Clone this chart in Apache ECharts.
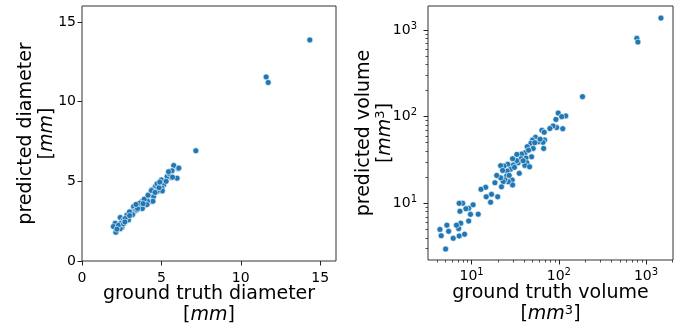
<!DOCTYPE html>
<html>
<head>
<meta charset="utf-8">
<script src="https://cdn.jsdelivr.net/npm/echarts@6/dist/echarts.min.js"></script>
<style>html,body{margin:0;padding:0;background:#fff}#c{width:680px;height:331px}</style>
</head>
<body>
<div id="c"></div>
<script>
// Diameter [mm]: [ground truth, predicted]
const diameterPoints = [
  [14.35,13.87],[11.6,11.55],[11.73,11.2],[7.17,6.92],
  [5.78,5.99],[6.06,5.79],[5.68,5.66],[5.61,5.24],[5.99,5.2],[5.36,5.3],[5.5,5.47],[5.0,5.09],
  [4.62,4.67],[5.15,4.78],[5.04,4.57],[5.06,4.4],[4.41,4.47],[4.73,4.36],[4.2,4.15],[4.51,4.04],
  [4.09,3.84],[4.3,3.73],[3.78,3.73],[3.94,3.52],[3.57,3.52],[3.67,3.31],[3.25,3.42],[3.35,3.14],
  [3.04,3.1],[3.14,2.89],[2.83,2.89],[2.41,2.73],[2.62,2.58],[2.09,2.37],[2.45,2.37],[1.98,2.16],
  [2.51,2.1],[2.13,1.8],[2.41,2.03],[2.3,2.24],[2.93,2.58],
  [4.47,3.75],[4.13,3.75],[4.09,3.54],[3.8,3.29],[3.46,3.21],[3.19,2.91],[2.72,2.66],[2.99,3.08],
  [3.63,3.63],[3.92,3.88],[4.16,4.13],[4.37,4.42],[4.73,4.84],[5.67,5.66],[5.7,5.26],[6.1,5.83],
  [2.62,2.33],[4.85,4.6],[4.6,4.3],[3.5,3.3],[3.0,2.85],[2.7,2.45],[5.3,5.0],[4.9,4.95],
  [3.85,3.6],[3.4,3.55],[2.2,2.0],[5.45,5.6]
];
// Volume [mm^3]: [ground truth, predicted]
const volumePoints = [
  [1483,1371],[785,800],[807,725],[187,170],[98.4,110],[120,102],[108,100],[92.7,93],[94.4,75],
  [111,72.6],[86,78],[79,73],[64,69.5],[68,66],[68.7,53.7],[65.8,50.5],[67,43],[54,57.7],[58,51.3],
  [50,53.7],[47.9,49.2],[50.8,43],[48.7,34.4],[43.4,45],[41,38.4],[37.4,37],[42,33.3],[37,32.7],
  [43,29.4],[34.2,29.4],[40.8,27.4],[46.2,26.4],[33,36.7],[32.8,31],[29.5,32.7],[30,27.7],[35.2,22.2],
  [26,28.2],[28,24.7],[25.6,23.6],[23.5,26.9],[21.5,27.2],[22.7,24],[25.2,20.7],[29.2,18.6],[29.5,16.3],
  [26.3,17.8],[24.1,18.6],[23,17.8],[21.5,19.7],[19.4,21],[18.5,17.3],[22,15.5],[19.9,11.9],[16.9,12.7],
  [16.5,10.3],[14.5,15.3],[12.8,14.5],[14.7,11.9],[11.9,7.5],[10.4,9.6],[9.7,7.46],[9.25,6.25],
  [9.25,8.75],[8.6,8.67],[7.9,10],[7.2,10],[7.35,8.1],[7.5,5.9],[7.1,5.1],[7.2,4.2],[8.3,4.4],
  [6.7,5.6],[6.15,3.95],[5.45,4.75],[5.2,5.6],[4.33,5.0],[4.48,4.23],[5.03,2.97],
  [39,31],[45,41],[53,50],[61,55],[31,26],[27,21]
];
const diameterTicks = [0, 5, 10, 15];
const volumeMajorTicks = [10, 100, 1000];
const volumeMinorTicks = [3,4,5,6,7,8,9,20,30,40,50,60,70,80,90,200,300,400,500,600,700,800,900,2000];

const FONT = 'DejaVu Sans';
const tickColor = '#222';
const NAME_FS = 19, NAME_LH = 21;
const nameRich = {
  a: {fontSize: NAME_FS, fontFamily: FONT, color: '#000', lineHeight: NAME_LH},
  i: {fontSize: NAME_FS, fontFamily: FONT, fontStyle: 'italic', color: '#000', lineHeight: NAME_LH},
  s: {fontSize: 13, fontFamily: FONT, color: '#000', lineHeight: 13, verticalAlign: 'top'}
};
const logLabelRich = {
  b: {fontSize: 14, fontFamily: FONT, color: '#000'},
  s: {fontSize: 10, fontFamily: FONT, color: '#000', padding: [0,0,8,0]}
};
function logFmt(v) {
  const e = Math.round(Math.log10(v));
  return '{b|10}{s|' + e + '}';
}
const linLabelX = {fontSize: 14, fontFamily: FONT, color: '#000', margin: 10};
const linLabelY = {fontSize: 14, fontFamily: FONT, color: '#000', margin: 6};

const vMin = 3.16, vMaxX = 2040, vMinY = 2.22, vMaxY = 1890;

function majorTick(vals) {
  return {show: true, inside: false, length: 4.5, lineStyle: {color: tickColor, width: 1}, customValues: vals};
}
function minorTick(vals) {
  return {show: true, inside: false, length: 2.5, lineStyle: {color: tickColor, width: 0.8}, customValues: vals};
}

const option = {
  animation: false,
  backgroundColor: '#fff',
  grid: [
    {left: 82, right: 344, top: 6, bottom: 70, containLabel: false, outerBoundsMode: 'none',
     show: true, borderColor: '#333', borderWidth: 1, backgroundColor: 'transparent'},
    {left: 428, right: 7, top: 6, bottom: 71, containLabel: false, outerBoundsMode: 'none',
     show: true, borderColor: '#333', borderWidth: 1, backgroundColor: 'transparent'}
  ],
  xAxis: [
    {gridIndex: 0, type: 'value', min: 0, max: 16, position: 'bottom',
     axisLine: {show: false}, splitLine: {show: false},
     axisTick: majorTick(diameterTicks),
     axisLabel: Object.assign({customValues: diameterTicks}, linLabelX),
     name: '{a|ground truth diameter}\n{a|[}{i|mm}{a|]}', nameLocation: 'middle', nameGap: 23, nameMoveOverlap: false,
     nameTextStyle: {rich: nameRich, align: 'center'}},
    {gridIndex: 1, type: 'log', logBase: 10, min: vMin, max: vMaxX, position: 'bottom',
     axisLine: {show: false}, splitLine: {show: false},
     axisTick: majorTick(volumeMajorTicks),
     axisLabel: {customValues: volumeMajorTicks, formatter: logFmt, rich: logLabelRich, margin: 7},
     name: '{a|ground truth volume}\n{a|[}{i|mm}{s|3}{a|]}', nameLocation: 'middle', nameGap: 23, nameMoveOverlap: false,
     nameTextStyle: {rich: nameRich, align: 'center'}},
    {gridIndex: 1, type: 'log', logBase: 10, min: vMin, max: vMaxX, position: 'bottom',
     axisLine: {show: false}, splitLine: {show: false},
     axisTick: minorTick(volumeMinorTicks),
     axisLabel: {show: false}}
  ],
  yAxis: [
    {gridIndex: 0, type: 'value', min: 0, max: 16, position: 'left',
     axisLine: {show: false}, splitLine: {show: false},
     axisTick: majorTick(diameterTicks),
     axisLabel: Object.assign({customValues: diameterTicks}, linLabelY),
     name: '{a|predicted diameter}\n{a|[}{i|mm}{a|]}', nameLocation: 'middle', nameGap: 24.5, nameRotate: 90, nameMoveOverlap: false,
     nameTextStyle: {rich: nameRich, align: 'center'}},
    {gridIndex: 1, type: 'log', logBase: 10, min: vMinY, max: vMaxY, position: 'left',
     axisLine: {show: false}, splitLine: {show: false},
     axisTick: majorTick(volumeMajorTicks),
     axisLabel: {customValues: volumeMajorTicks, formatter: logFmt, rich: logLabelRich, margin: 11},
     name: '{a|predicted volume}\n{a|[}{i|mm}{s|3}{a|]}', nameLocation: 'middle', nameGap: 32.5, nameRotate: 90, nameMoveOverlap: false,
     nameTextStyle: {rich: nameRich, align: 'center'}},
    {gridIndex: 1, type: 'log', logBase: 10, min: vMinY, max: vMaxY, position: 'left',
     axisLine: {show: false}, splitLine: {show: false},
     axisTick: minorTick(volumeMinorTicks),
     axisLabel: {show: false}}
  ],
  series: [
    {type: 'scatter', xAxisIndex: 0, yAxisIndex: 0, data: diameterPoints, symbolSize: 6,
     itemStyle: {color: '#1f77b4', borderColor: '#fff', borderWidth: 0.6, opacity: 1}},
    {type: 'scatter', xAxisIndex: 1, yAxisIndex: 1, data: volumePoints, symbolSize: 6,
     itemStyle: {color: '#1f77b4', borderColor: '#fff', borderWidth: 0.6, opacity: 1}}
  ]
};
const chart = echarts.init(document.getElementById('c'), null, {renderer: 'canvas'});
chart.setOption(option);
</script>
</body>
</html>
